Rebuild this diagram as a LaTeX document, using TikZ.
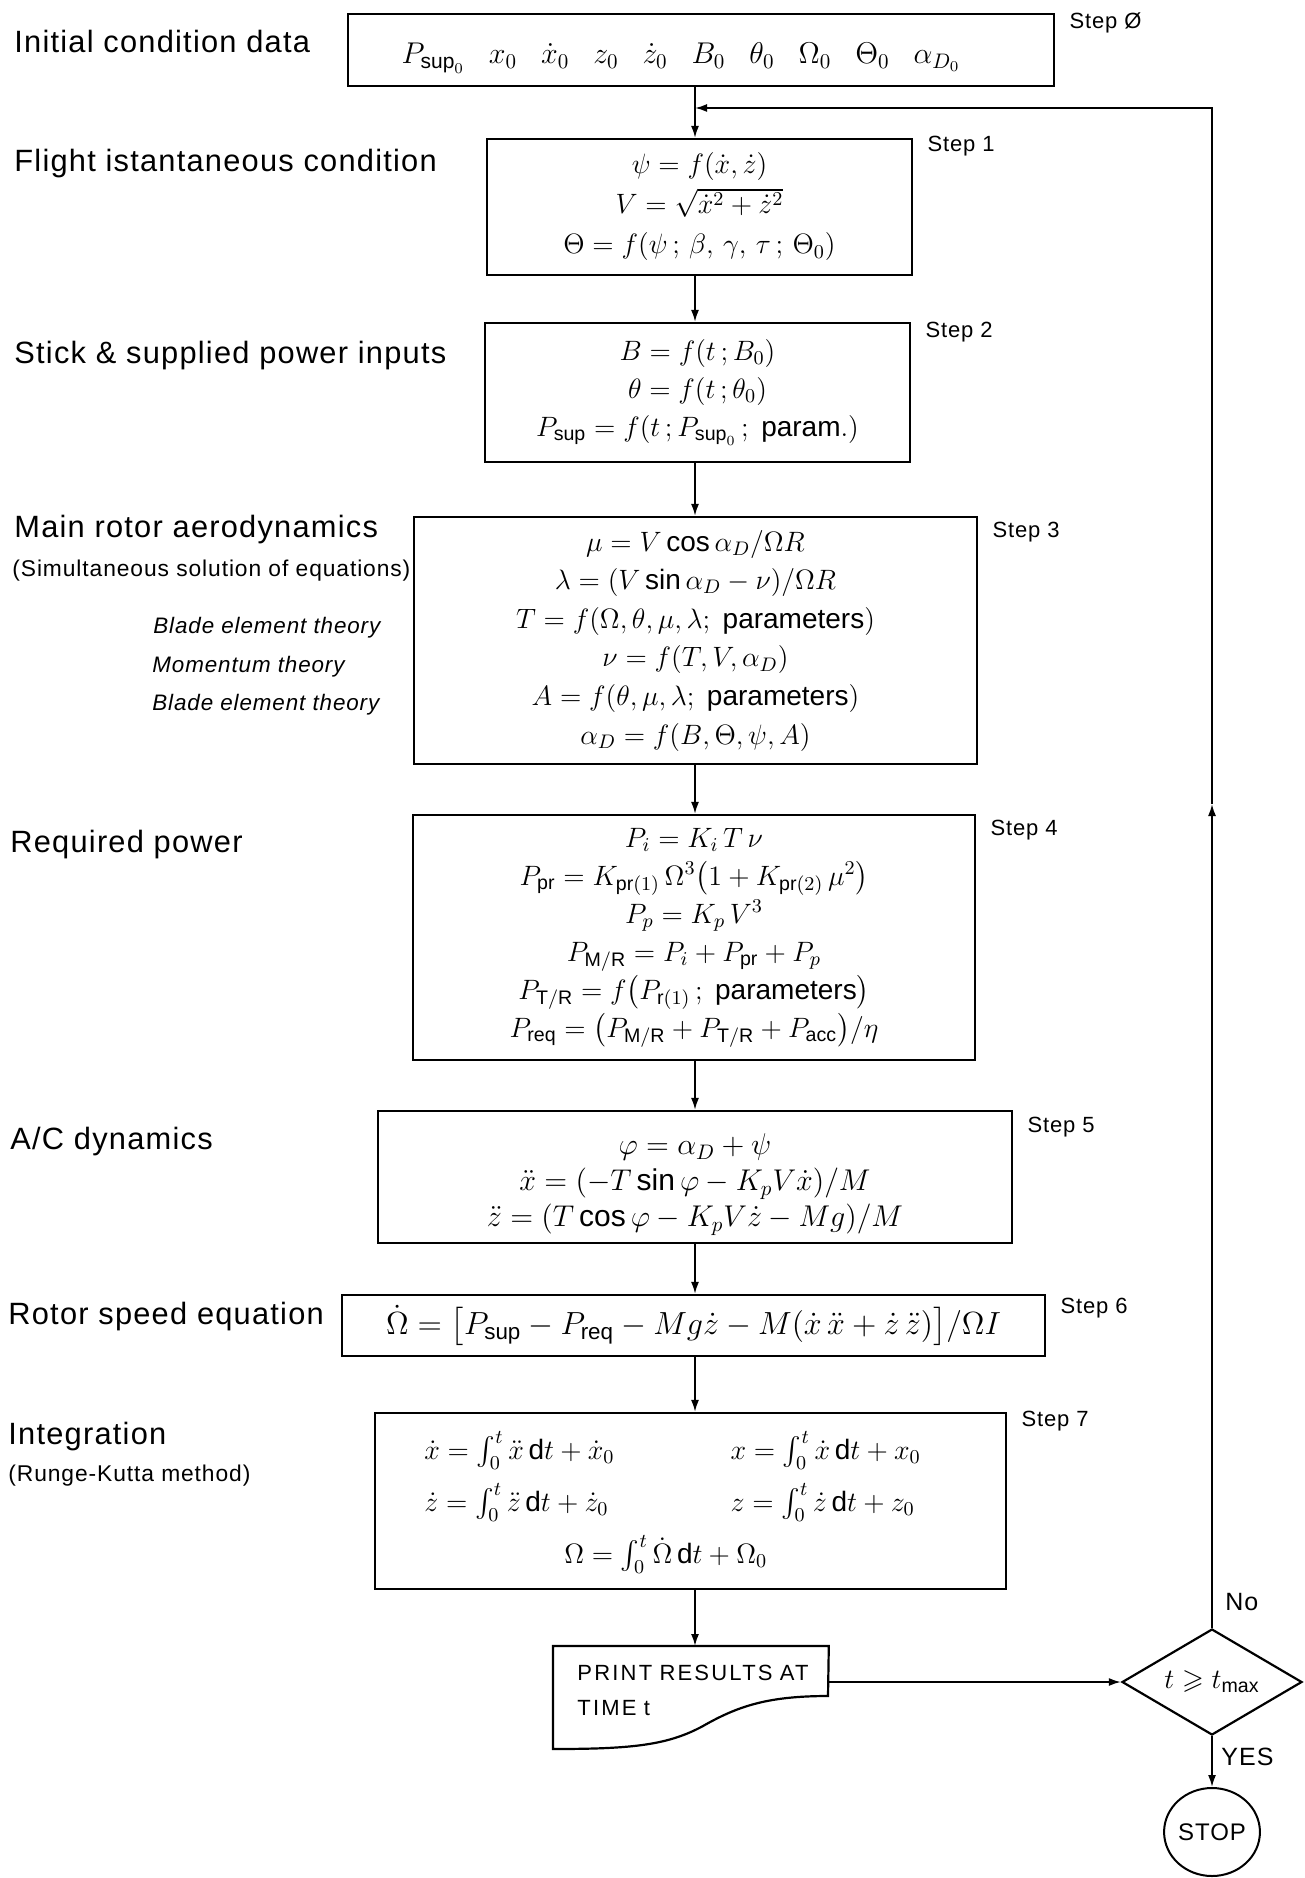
\RequirePackage{fix-cm}
\documentclass[tikz,border=0pt]{standalone}
\usepackage{amsmath,amssymb}
\usepackage{fontspec}
\setmainfont{Liberation Sans}
\newfontfamily\labfont{Liberation Sans}[LetterSpace=4]
\newfontfamily\prfont{Liberation Sans}[LetterSpace=10]
\newfontfamily\ynfont{Liberation Sans}[LetterSpace=4]
\usetikzlibrary{shapes.geometric,arrows.meta,calc}
\def\PX{0.5pt}
\newcommand{\rmsub}[1]{\mathrm{#1}}
\begin{document}
\begin{tikzpicture}[x=0.5pt,y=-0.5pt,
  box/.style={draw, line width=1.1pt, rectangle, inner sep=0pt, align=center, font=\fontsize{14}{19}\selectfont},
  lab/.style={anchor=west, inner sep=0pt, font=\labfont\fontsize{15.4}{18}\selectfont},
  sublab/.style={anchor=west, inner sep=0pt, font=\labfont\fontsize{11.4}{13}\selectfont},
  itlab/.style={anchor=west, inner sep=0pt, font=\labfont\itshape\fontsize{11.2}{13}\selectfont},
  steplab/.style={anchor=west, inner sep=0pt, font=\labfont\fontsize{11}{13}\selectfont},
  ynlab/.style={anchor=west, inner sep=0pt, font=\ynfont\fontsize{12.5}{15}\selectfont},
  conn/.style={line width=0.9pt, -{Latex[length=6pt,width=4pt]}}
]
\useasboundingbox (0,0) rectangle (1305,1878);

% ---- boxes ----
\node[box, minimum width=706*\PX, minimum height=72*\PX, text height=16pt, text depth=2pt,
      font=\fontsize{15}{19}\selectfont] (s0) at (701,50)
 {$P_{\rmsub{sup}_0}$\hspace{12pt}$x_0$\hspace{12pt}$\dot x_0$\hspace{12pt}$z_0$\hspace{12pt}$\dot z_0$\hspace{12pt}$B_0$\hspace{12pt}$\theta_0$\hspace{12pt}$\Omega_0$\hspace{12pt}$\Theta_0$\hspace{12pt}$\alpha_{D_0}$\hspace*{20pt}};

\node[box, minimum width=425*\PX, minimum height=136*\PX, font=\fontsize{14}{20}\selectfont] (s1) at (699.5,207)
 {$\psi = f(\dot x, \dot z)$\\
  $V = \sqrt{\dot x^2 + \dot z^2}$\\
  $\Theta = f(\psi\,;\,\beta,\,\gamma,\,\tau\,;\,\Theta_0)$};

\node[box, minimum width=425*\PX, minimum height=139*\PX] (s2) at (697.5,392.5)
 {$B = f(t\,;B_0)$\\
  $\theta = f(t\,;\theta_0)$\\
  $P_{\rmsub{sup}} = f(t\,;P_{\rmsub{sup}_0}\,;\ \mathrm{param.})$};

\node[box, minimum width=563*\PX, minimum height=247*\PX, font=\fontsize{14}{19.3}\selectfont] (s3) at (695.5,640.5)
 {$\mu = V\cos\alpha_D/\Omega R$\\
  $\lambda = (V\sin\alpha_D - \nu)/\Omega R$\\
  $T = f(\Omega,\theta,\mu,\lambda;\ \mathrm{parameters})$\\
  $\nu = f(T, V, \alpha_D)$\\
  $A = f(\theta,\mu,\lambda;\ \mathrm{parameters})$\\
  $\alpha_D = f(B,\Theta,\psi,A)$};

\node[box, minimum width=562*\PX, minimum height=245*\PX] (s4) at (694,937.5)
 {$P_i = K_i\,T\,\nu$\\
  $P_{\rmsub{pr}} = K_{\rmsub{pr}(1)}\,\Omega^3\bigl(1 + K_{\rmsub{pr}(2)}\,\mu^2\bigr)$\\
  $P_p = K_p\,V^3$\\
  $P_{\rmsub{M/R}} = P_i + P_{\rmsub{pr}} + P_p$\\
  $P_{\rmsub{T/R}} = f\bigl(P_{\rmsub{r}(1)}\,;\ \mathrm{parameters}\bigr)$\\
  $P_{\rmsub{req}} = \bigl(P_{\rmsub{M/R}} + P_{\rmsub{T/R}} + P_{\rmsub{acc}}\bigr)/\eta$};

\node[box, minimum width=634*\PX, minimum height=132*\PX, font=\fontsize{15}{18}\selectfont] (s5) at (695,1177)
 {\rule{0pt}{6pt}\\[-6pt]
  $\varphi = \alpha_D + \psi$\\
  $\ddot x = (-T\sin\varphi - K_p V\dot x)/M$\\
  $\ddot z = (T\cos\varphi - K_p V\dot z - Mg)/M$};

\node[box, minimum width=703*\PX, minimum height=61*\PX, font=\fontsize{16}{19}\selectfont] (s6) at (693.5,1325.5)
 {$\dot\Omega = \bigl[P_{\rmsub{sup}} - P_{\rmsub{req}} - Mg\dot z - M(\dot x\,\ddot x + \dot z\,\ddot z)\bigr]/\Omega I$};

\node[box, minimum width=631*\PX, minimum height=176*\PX, font=\fontsize{14}{19}\selectfont] (s7) at (690.5,1501)
 {\renewcommand{\arraystretch}{1.37}%
  \begin{tabular}{@{}l@{\hspace{58pt}}l@{\hspace{18pt}}}
  $\dot x = \int_0^t \ddot x\,\mathrm{d}t + \dot x_0$ & $x = \int_0^t \dot x\,\mathrm{d}t + x_0$\\
  $\dot z = \int_0^t \ddot z\,\mathrm{d}t + \dot z_0$ & $z = \int_0^t \dot z\,\mathrm{d}t + z_0$\\
  \multicolumn{2}{@{}l}{\hspace{70pt}$\Omega = \int_0^t \dot\Omega\,\mathrm{d}t + \Omega_0$}
  \end{tabular}};

% print (document shape)
\node[inner sep=0pt, minimum width=275*\PX, minimum height=88*\PX, text width=275*\PX,
      anchor=north west, align=left, font=\prfont\fontsize{11}{17.5}\selectfont] (pr) at (553,1646)
 {\hspace*{12pt}PRINT RESULTS AT\\\hspace*{12pt}TIME t};
\draw[line width=1.1pt] (pr.north west) -- (pr.north east) -- ($(pr.north west)+(275,50)$)
  .. controls ($(pr.north west)+(215,50)$) and ($(pr.north west)+(185,60)$) .. ($(pr.north west)+(150,80)$)
  .. controls ($(pr.north west)+(115,99)$) and ($(pr.north west)+(80,103)$) .. ($(pr.north west)+(0,103)$)
  -- cycle;

\node[draw, line width=1.1pt, diamond, aspect=1.7, minimum width=180*\PX, minimum height=106*\PX, inner sep=0pt,
      font=\fontsize{14}{16}\selectfont] (dia) at (1212,1682) {$t \geqslant t_{\mathrm{max}}$};
\node[draw, line width=1pt, ellipse, minimum width=94*\PX, minimum height=88*\PX, inner sep=0pt,
      font=\ynfont\fontsize{12}{14}\selectfont] (stop) at (1212,1832) {STOP};

% ---- connectors ----
\coordinate (col) at (695,0);
\coordinate (fbj) at (695,108);
\coordinate (fbm) at (1212,804);
\draw[conn] (s0.south -| col) -- (s1.north -| col);
\draw[conn] (s1.south -| col) -- (s2.north -| col);
\draw[conn] (s2.south -| col) -- (s3.north -| col);
\draw[conn] (s3.south -| col) -- (s4.north -| col);
\draw[conn] (s4.south -| col) -- (s5.north -| col);
\draw[conn] (s5.south -| col) -- (s6.north -| col);
\draw[conn] (s6.south -| col) -- (s7.north -| col);
\draw[conn] (s7.south -| col) -- (pr.north -| col);
\draw[conn] (pr.north east |- dia.west) -- (dia.west);
\draw[conn] (dia.south) -- (stop.north);
\draw[conn] (dia.north) -- (fbm);
\draw[conn] (fbm) -- (dia.north |- fbj) -- (fbj);

\node[ynlab] (no) at (1225,1602) {No};
\node[ynlab] (yes) at (1221,1757) {YES};

% ---- step labels ----
\node[steplab] (st0) at ($(s0.north east)+(14,10)$) {Step Ø};
\node[steplab] (st1) at ($(s1.north east)+(14,8)$) {Step 1};
\node[steplab] (st2) at ($(s2.north east)+(14,10)$) {Step 2};
\node[steplab] (st3) at ($(s3.north east)+(14,16)$) {Step 3};
\node[steplab] (st4) at ($(s4.north east)+(14,16)$) {Step 4};
\node[steplab] (st5) at ($(s5.north east)+(14,17)$) {Step 5};
\node[steplab] (st6) at ($(s6.north east)+(14,14)$) {Step 6};
\node[steplab] (st7) at ($(s7.north east)+(14,9)$) {Step 7};

% ---- left labels ----
\node[lab] (l0) at (14,41) {Initial condition data};
\node[lab] (l1) at (14,164) {Flight istantaneous condition};
\node[lab] (l2) at (14,356) {Stick \& supplied power inputs};
\node[lab] (l3) at (14,530) {Main rotor aerodynamics};
\node[sublab] (l3b) at (12,571) {(Simultaneous solution of equations)};
\node[itlab] (l3c) at (153,628) {Blade element theory};
\node[itlab] (l3d) at (152,667) {Momentum theory};
\node[itlab] (l3e) at (152,705) {Blade element theory};
\node[lab] (l4) at (10,845) {Required power};
\node[lab] (l5) at (10,1142) {A/C dynamics};
\node[lab] (l6) at (8,1317) {Rotor speed equation};
\node[lab] (l7) at (8,1437) {Integration};
\node[sublab] (l7b) at (8,1476) {(Runge-Kutta method)};
\end{tikzpicture}
\end{document}
